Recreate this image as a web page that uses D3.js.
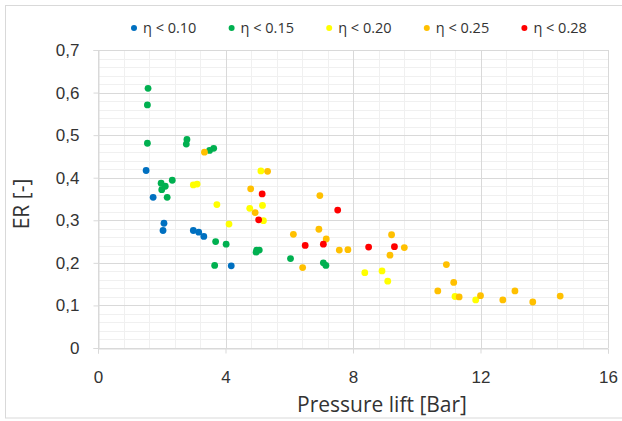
<!DOCTYPE html>
<html>
<head>
<meta charset="utf-8">
<script src="https://cdn.jsdelivr.net/npm/d3@7"></script>
<style>
  body { margin: 0; background: #fff; }
  svg { display: block; font-family: "Open Sans", "Noto Sans", sans-serif; }
</style>
</head>
<body>
<div id="chart"></div>
<script>
// series names (legend order)
var seriesNames = ["η < 0.10", "η < 0.15", "η < 0.20", "η < 0.25", "η < 0.28"];
var seriesColors = ["#0070C0", "#00B050", "#FFFF00", "#FFC000", "#FF0000"];

// pressure lift [bar] / ER [-] per series
var blueX = [1.51, 1.73, 2.07, 2.04, 2.99, 3.16, 3.32, 4.18];
var blueY = [0.417, 0.354, 0.293, 0.276, 0.276, 0.272, 0.262, 0.193];

var greenX = [1.57, 1.55, 1.55, 2.79, 2.77, 3.50, 3.63, 1.98, 2.11, 2.00, 2.33, 2.17, 3.69, 4.02, 3.66, 4.98, 5.06, 4.96, 6.04, 7.07, 7.15];
var greenY = [0.610, 0.571, 0.481, 0.490, 0.479, 0.464, 0.469, 0.387, 0.380, 0.372, 0.394, 0.354, 0.250, 0.244, 0.194, 0.230, 0.230, 0.225, 0.210, 0.200, 0.194];

var yellowX = [2.99, 3.11, 3.73, 4.11, 4.76, 5.11, 5.16, 5.19, 8.37, 8.91, 9.09, 11.20, 11.85];
var yellowY = [0.383, 0.385, 0.337, 0.291, 0.328, 0.416, 0.335, 0.299, 0.177, 0.181, 0.157, 0.121, 0.113];

var orangeX = [3.34, 5.32, 4.79, 4.93, 6.96, 6.13, 6.93, 7.16, 6.42, 7.57, 7.84, 9.61, 9.21, 9.16, 10.93, 11.16, 10.66, 11.33, 12.00, 12.70, 13.08, 13.64, 14.50];
var orangeY = [0.460, 0.415, 0.374, 0.318, 0.358, 0.267, 0.279, 0.256, 0.189, 0.230, 0.231, 0.236, 0.266, 0.218, 0.196, 0.154, 0.134, 0.120, 0.123, 0.113, 0.134, 0.108, 0.122];

var redX = [5.15, 5.04, 7.52, 6.50, 7.07, 8.49, 9.30];
var redY = [0.362, 0.301, 0.324, 0.241, 0.244, 0.237, 0.238];

var xTicks = [0, 4, 8, 12, 16];
var yTicks = [0, 0.1, 0.2, 0.3, 0.4, 0.5, 0.6, 0.7];

var width = 622, height = 421;
var margin = {top: 50, right: 14, bottom: 73, left: 98};

var series = [
    {name: seriesNames[0], color: seriesColors[0], xs: blueX, ys: blueY},
    {name: seriesNames[1], color: seriesColors[1], xs: greenX, ys: greenY},
    {name: seriesNames[2], color: seriesColors[2], xs: yellowX, ys: yellowY},
    {name: seriesNames[3], color: seriesColors[3], xs: orangeX, ys: orangeY},
    {name: seriesNames[4], color: seriesColors[4], xs: redX, ys: redY}
];

var svg = d3.select("#chart").append("svg")
    .attr("width", width)
    .attr("height", height);

// chart area border (right edge is cut off in the picture)
svg.append("rect")
    .attr("x", 5.5).attr("y", 5.5)
    .attr("width", width + 10).attr("height", 412.5)
    .attr("fill", "#fff")
    .attr("stroke", "#d9d9d9");

var x = d3.scaleLinear().domain([0, 16]).range([margin.left, width - margin.right]);
var y = d3.scaleLinear().domain([0, 0.7]).range([height - margin.bottom, margin.top]);

// minor grid
var grid = svg.append("g");
grid.selectAll(".vminor")
    .data(d3.range(0, 16.01, 0.8))
    .enter().append("line")
    .attr("x1", d => Math.round(x(d)) + 0.5).attr("x2", d => Math.round(x(d)) + 0.5)
    .attr("y1", y(0)).attr("y2", y(0.7))
    .attr("stroke", "#f0f0f0");
grid.selectAll(".hminor")
    .data(d3.range(0, 0.701, 0.02))
    .enter().append("line")
    .attr("y1", d => Math.round(y(d)) + 0.5).attr("y2", d => Math.round(y(d)) + 0.5)
    .attr("x1", x(0)).attr("x2", x(16))
    .attr("stroke", "#f0f0f0");

// major grid
grid.selectAll(".vmajor")
    .data(xTicks)
    .enter().append("line")
    .attr("x1", d => Math.round(x(d)) + 0.5).attr("x2", d => Math.round(x(d)) + 0.5)
    .attr("y1", y(0)).attr("y2", y(0.7))
    .attr("stroke", "#d9d9d9");
grid.selectAll(".hmajor")
    .data(yTicks)
    .enter().append("line")
    .attr("y1", d => Math.round(y(d)) + 0.5).attr("y2", d => Math.round(y(d)) + 0.5)
    .attr("x1", x(0)).attr("x2", x(16))
    .attr("stroke", "#d9d9d9");

// axes
var xAxis = d3.axisBottom(x).tickValues(xTicks).tickSize(5).tickPadding(17).tickFormat(d3.format("d"));
var yAxis = d3.axisLeft(y).tickValues(yTicks).tickSize(5).tickPadding(14)
    .tickFormat(d => d === 0 ? "0" : d3.format(".1f")(d).replace(".", ","));

var gx = svg.append("g")
    .attr("transform", "translate(0," + (Math.round(y(0)) + 0.5) + ")")
    .call(xAxis);
var gy = svg.append("g")
    .attr("transform", "translate(" + (Math.round(x(0)) + 0.5) + ",0)")
    .call(yAxis);

[gx, gy].forEach(function(g) {
    g.select(".domain").attr("stroke", "#d9d9d9");
    g.selectAll(".tick line").attr("stroke", "#d9d9d9");
    g.selectAll(".tick text").attr("fill", "#333").style("font-size", "17px");
});

// points
series.forEach(function(s) {
    svg.append("g").selectAll("circle")
        .data(s.xs.map((v, i) => [v, s.ys[i]]))
        .enter().append("circle")
        .attr("cx", d => x(d[0]))
        .attr("cy", d => y(d[1]))
        .attr("r", 3.4)
        .attr("fill", s.color);
});

// axis titles
svg.append("text")
    .attr("x", 382).attr("y", 412)
    .attr("text-anchor", "middle")
    .attr("fill", "#333")
    .style("font-size", "21px")
    .text("Pressure lift [Bar]");

svg.append("text")
    .attr("transform", "translate(29,204) rotate(-90)")
    .attr("text-anchor", "middle")
    .attr("fill", "#333")
    .style("font-size", "21px")
    .text("ER [-]");

// legend
var legend = svg.append("g");
var item = legend.selectAll("g")
    .data(series)
    .enter().append("g")
    .attr("transform", (d, i) => "translate(" + (134 + i * 97.6) + ",28)");
item.append("circle").attr("r", 3).attr("fill", d => d.color);
item.append("text")
    .attr("x", 9).attr("dy", "0.35em")
    .attr("fill", "#333")
    .style("font-size", "14.5px")
    .text(d => d.name);
</script>
</body>
</html>
